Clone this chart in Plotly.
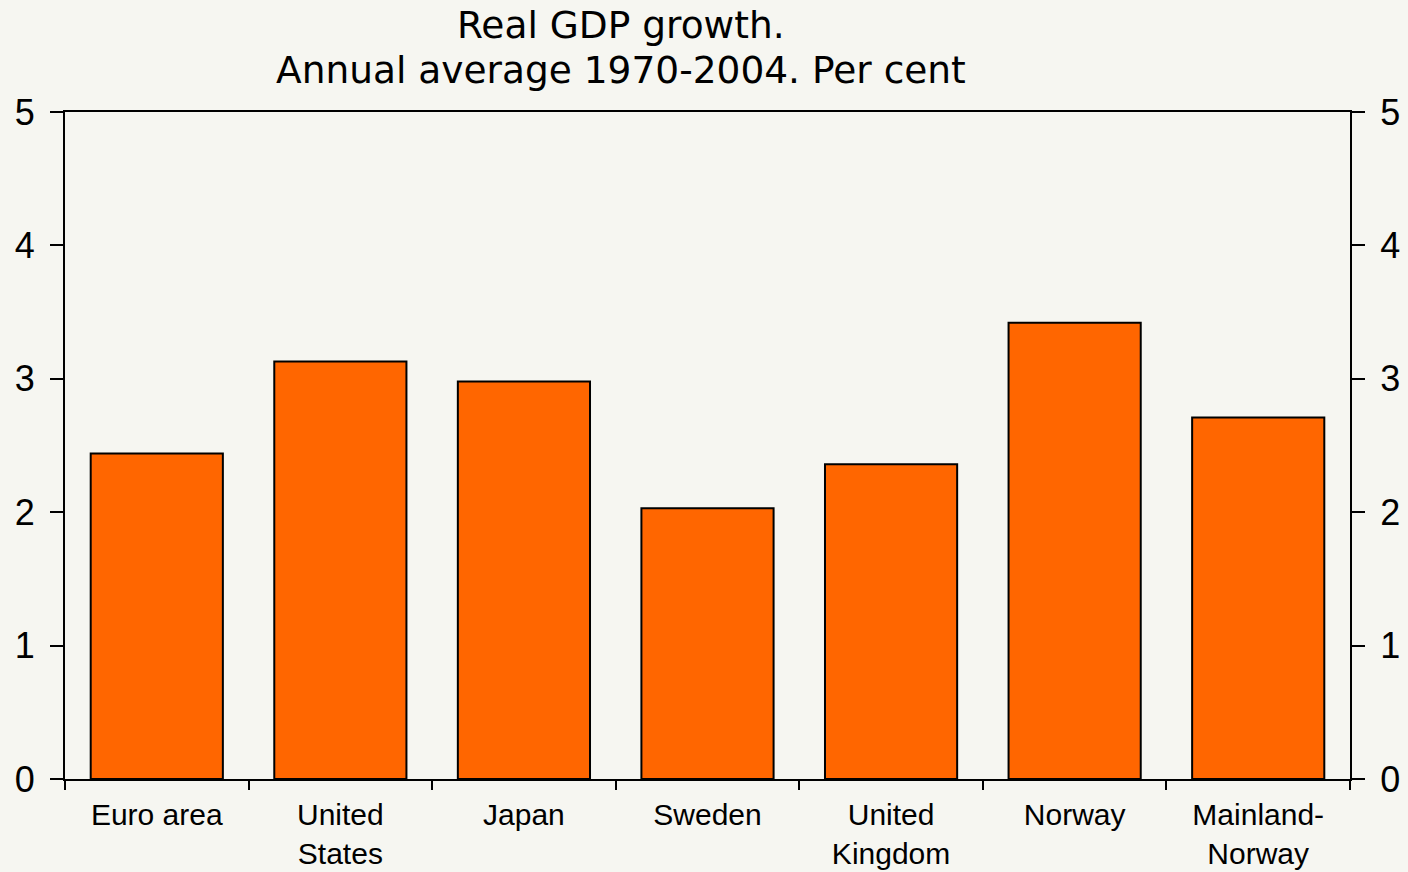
import plotly.graph_objects as go

# Real GDP growth, annual average 1970-2004, per cent
categories = ["Euro area", "United<br>States", "Japan", "Sweden",
              "United<br>Kingdom", "Norway", "Mainland-<br>Norway"]
growth = [2.44, 3.13, 2.98, 2.03, 2.36, 3.42, 2.71]
y_ticks = [0, 1, 2, 3, 4, 5]
title_lines = ["Real GDP growth.", "Annual average 1970-2004. Per cent"]

BG = "#F6F6F1"
BAR = "#FF6600"
SANS = "Liberation Sans, Arial, sans-serif"
X_FONT = dict(family=SANS, size=30, color="black")
Y_FONT = dict(family=SANS, size=36, color="black")

fig = go.Figure()
fig.add_trace(go.Bar(
    x=categories, y=growth,
    marker=dict(color=BAR, line=dict(color="black", width=2)),
    hoverinfo="skip",
))
# invisible companion trace so the right-hand value axis is drawn
fig.add_trace(go.Scatter(
    x=categories, y=growth, yaxis="y2", mode="markers",
    marker=dict(opacity=0), hoverinfo="skip", showlegend=False,
))

# two-line heading, placed above the plot area
for text, ypos in zip(title_lines, [1.1304, 1.063]):
    fig.add_annotation(
        text=text, xref="paper", yref="paper", x=0.4327, y=ypos,
        xanchor="center", yanchor="middle", showarrow=False,
        font=dict(family="DejaVu Sans, Verdana, sans-serif", size=37.5, color="black"),
    )

axis_y = dict(
    range=[0, 5], tickvals=y_ticks, showline=True, linecolor="black", linewidth=2,
    ticks="outside", ticklen=13, tickwidth=2, tickcolor="black",
    tickfont=Y_FONT, ticklabelstandoff=8, showgrid=False, zeroline=False,
    automargin=False,
)

fig.update_layout(
    width=1408, height=872,
    paper_bgcolor=BG, plot_bgcolor=BG,
    margin=dict(l=65, r=58, t=112, b=93),
    bargap=0.28,
    showlegend=False,
    xaxis=dict(
        showline=True, linecolor="black", linewidth=2, mirror=True,
        ticks="outside", tickson="boundaries", ticklen=9, tickwidth=2, tickcolor="black",
        tickfont=X_FONT, ticklabelstandoff=8, showgrid=False, automargin=False,
    ),
    yaxis=axis_y,
    yaxis2=dict(axis_y, overlaying="y", side="right"),
)

fig.write_html("out.html")
